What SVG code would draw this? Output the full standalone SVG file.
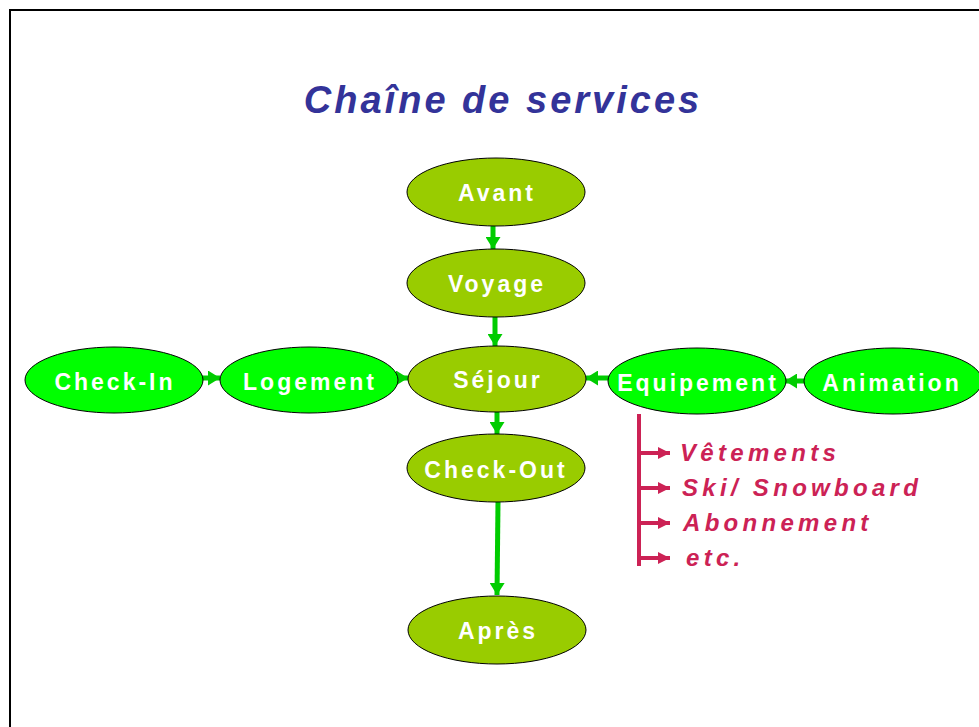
<svg xmlns="http://www.w3.org/2000/svg" width="979" height="727" viewBox="0 0 979 727">
<style>
.olive{fill:#99CC00;stroke:#000;stroke-width:1}
.lime{fill:#00FF00;stroke:#000;stroke-width:1}
.lbl{font-family:"Liberation Sans",Arial,sans-serif;font-weight:bold;font-size:23px;fill:#fff;letter-spacing:3px;text-anchor:middle}
.g{stroke:#00CC00;stroke-width:5;fill:none}
.r{stroke:#CC2255;stroke-width:4;fill:none}
.item{font-family:"Liberation Sans",Arial,sans-serif;font-weight:bold;font-style:italic;font-size:24px;fill:#CC2255;letter-spacing:4.3px}
</style>
<defs>
<marker id="ga" markerUnits="userSpaceOnUse" markerWidth="12" markerHeight="15" viewBox="0 0 12 15" refX="12" refY="7.5" orient="auto">
<path d="M0,0 L12,7.5 L0,15 Z" fill="#00CC00"/>
</marker>
<marker id="ra" markerUnits="userSpaceOnUse" markerWidth="12" markerHeight="12" viewBox="0 0 12 12" refX="12" refY="6" orient="auto">
<path d="M0,0 L12,6 L0,12 Z" fill="#CC2255"/>
</marker>
</defs>
<rect x="0" y="0" width="979" height="727" fill="#fff"/>
<rect x="10" y="10" width="1000" height="800" fill="none" stroke="#000" stroke-width="2"/>
<text x="503" y="113" font-family="'Liberation Sans',Arial,sans-serif" font-weight="bold" font-style="italic" font-size="38" fill="#333399" letter-spacing="3" text-anchor="middle">Chaîne de services</text>

<g id="connectors">
<line class="g" x1="493" y1="226" x2="493" y2="249" marker-end="url(#ga)"/>
<line class="g" x1="495" y1="317" x2="495" y2="346" marker-end="url(#ga)"/>
<line class="g" x1="497" y1="411" x2="497" y2="434" marker-end="url(#ga)"/>
<line class="g" x1="498" y1="502" x2="497" y2="595" marker-end="url(#ga)"/>
<line class="g" x1="200" y1="378" x2="220" y2="378" marker-end="url(#ga)"/>
<line class="g" x1="397" y1="378" x2="408" y2="378" marker-end="url(#ga)"/>
<line class="g" x1="609" y1="378" x2="586" y2="378" marker-end="url(#ga)"/>
<line class="g" x1="805" y1="381" x2="785" y2="381" marker-end="url(#ga)"/>
<g id="bracket">
<line class="r" x1="639" y1="414" x2="639" y2="566"/>
<line class="r" x1="639" y1="453" x2="670" y2="453" marker-end="url(#ra)"/>
<line class="r" x1="639" y1="488" x2="670" y2="488" marker-end="url(#ra)"/>
<line class="r" x1="639" y1="523" x2="670" y2="523" marker-end="url(#ra)"/>
<line class="r" x1="639" y1="558" x2="670" y2="558" marker-end="url(#ra)"/>
</g>
</g>

<g id="avant"><ellipse class="olive" cx="496" cy="192" rx="89" ry="34"/><text class="lbl" x="497" y="201">Avant</text></g>
<g id="voyage"><ellipse class="olive" cx="496" cy="283" rx="89" ry="34"/><text class="lbl" x="497" y="292">Voyage</text></g>
<g id="sejour"><ellipse class="olive" cx="497" cy="379" rx="89" ry="33"/><text class="lbl" x="498" y="388">Séjour</text></g>
<g id="checkout"><ellipse class="olive" cx="496" cy="468" rx="89" ry="34"/><text class="lbl" x="496" y="478">Check-Out</text></g>
<g id="apres"><ellipse class="olive" cx="497" cy="630" rx="89" ry="34"/><text class="lbl" x="498" y="639">Après</text></g>
<g id="checkin"><ellipse class="lime" cx="114" cy="380" rx="89" ry="33"/><text class="lbl" x="115" y="390">Check-In</text></g>
<g id="logement"><ellipse class="lime" cx="309" cy="380" rx="89" ry="33"/><text class="lbl" x="310" y="390">Logement</text></g>
<g id="equipement"><ellipse class="lime" cx="697" cy="381" rx="89" ry="33"/><text class="lbl" x="698" y="391">Equipement</text></g>
<g id="animation"><ellipse class="lime" cx="893" cy="381" rx="89" ry="33"/><text class="lbl" x="892" y="391">Animation</text></g>

<g id="items">
<text class="item" x="680" y="461">Vêtements</text>
<text class="item" x="682" y="496">Ski/ Snowboard</text>
<text class="item" x="683" y="531">Abonnement</text>
<text class="item" x="686" y="566">etc.</text>
</g>
</svg>
